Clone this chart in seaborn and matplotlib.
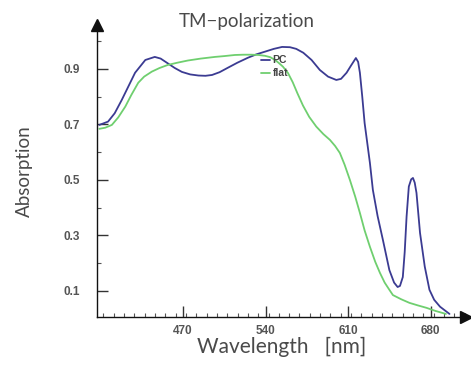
import numpy as np
import pandas as pd
import matplotlib
matplotlib.use("Agg")
import matplotlib.pyplot as plt
from matplotlib.ticker import MultipleLocator
import seaborn as sns

# ---- data ----
pc_wl = [399, 406.4, 412, 418, 424, 429.3, 438, 446, 451, 457, 463, 469, 476, 483, 489,
         494.6, 501, 508, 516, 525, 532, 539.5, 547, 554, 560.7, 566, 572, 579, 586, 593,
         600, 604, 608.7, 612.5, 616.6, 618.5, 620, 622, 624, 628.5, 631, 635, 639.5, 645,
         649, 652, 654, 656.4, 658, 659.6, 661.5, 663.5, 665, 666.5, 668, 671, 675, 679,
         683, 688, 696]
pc_abs = [0.698, 0.71, 0.74, 0.788, 0.84, 0.886, 0.932, 0.943, 0.937, 0.92, 0.903, 0.889,
          0.88, 0.876, 0.875, 0.878, 0.888, 0.904, 0.922, 0.94, 0.952, 0.962, 0.972, 0.979,
          0.978, 0.972, 0.958, 0.932, 0.896, 0.872, 0.86, 0.864, 0.886, 0.912, 0.939, 0.925,
          0.886, 0.8, 0.705, 0.561, 0.464, 0.37, 0.284, 0.175, 0.13, 0.114, 0.118, 0.15,
          0.24, 0.368, 0.476, 0.502, 0.507, 0.49, 0.453, 0.309, 0.188, 0.104, 0.068, 0.043,
          0.017]
flat_wl = [399, 404, 409.6, 415, 421, 426, 432, 437, 443.5, 450, 457, 465, 474, 485, 497,
           505, 514, 521, 528, 534, 539.5, 544, 548, 551, 554.7, 559, 563, 567, 571.7, 577,
           583, 589, 594.6, 599, 603, 607, 611.5, 616, 620, 624, 628.5, 633, 637, 641, 645,
           648, 655, 662, 669, 676.5, 684, 693]
flat_abs = [0.684, 0.688, 0.698, 0.725, 0.764, 0.805, 0.85, 0.872, 0.89, 0.903, 0.914,
            0.922, 0.93, 0.937, 0.943, 0.946, 0.95, 0.951, 0.951, 0.95, 0.947, 0.942, 0.932,
            0.922, 0.908, 0.885, 0.852, 0.812, 0.768, 0.727, 0.692, 0.665,
            0.644, 0.622, 0.597, 0.555, 0.5, 0.44, 0.381, 0.318, 0.259, 0.205, 0.165, 0.13,
            0.104, 0.085, 0.07, 0.057, 0.048, 0.039, 0.028, 0.017]
series_names = ["PC", "flat"]
x_ticks = [470, 540, 610, 680]
y_ticks = [0.1, 0.3, 0.5, 0.7, 0.9]

df = pd.concat([
    pd.DataFrame({"wl": pc_wl, "abs": pc_abs, "series": "PC"}),
    pd.DataFrame({"wl": flat_wl, "abs": flat_abs, "series": "flat"}),
])

sns.set_style("white")
plt.rcParams["font.family"] = ["Lato", "DejaVu Sans"]

fig = plt.figure(figsize=(4.71, 3.67), dpi=100)
ax = fig.add_axes([97 / 471, (367 - 317) / 367, (466 - 97) / 471, (317 - 25) / 367])

sns.lineplot(data=df, x="wl", y="abs", hue="series", hue_order=series_names,
             palette={"PC": "#3b3b92", "flat": "#6fcf6f"}, sort=False, estimator=None,
             linewidth=1.3, ax=ax)

ax.set_xlim(397, 710)
ax.set_ylim(0.006, 1.058)
for s in ["top", "right"]:
    ax.spines[s].set_visible(False)
for s in ["left", "bottom"]:
    ax.spines[s].set_color("#111111")
    ax.spines[s].set_linewidth(1.0)

ax.set_xticks(x_ticks)
ax.set_yticks(y_ticks)
ax.xaxis.set_minor_locator(MultipleLocator(8.75))
ax.yaxis.set_minor_locator(MultipleLocator(0.1))
ax.tick_params(axis="both", which="major", direction="in", length=8, width=1,
               color="#333333", labelsize=8.5, labelcolor="#555555", pad=6)
ax.tick_params(axis="both", which="minor", direction="in", length=3, width=0.8, color="#555555")
ax.tick_params(axis="y", which="major", pad=12)
ax.tick_params(bottom=True, left=True, which="both")
for lab in ax.get_xticklabels() + ax.get_yticklabels():
    lab.set_fontweight("bold")
    lab.set_family(["Liberation Sans", "DejaVu Sans"])

# arrow heads
ax.plot(1, 0, marker=">", color="#111111", markersize=8, transform=ax.transAxes, clip_on=False)
ax.plot(0, 1, marker="^", color="#111111", markersize=8, transform=ax.transAxes, clip_on=False)

ax.set_xlabel("Wavelength   [nm]", fontsize=15, color="#4a4a4a", labelpad=0)
ax.set_ylabel("Absorption", fontsize=13.5, color="#4a4a4a", labelpad=22)
fig.text(247 / 471, 1 - 21 / 367, "TM\u2212polarization", fontsize=13.5, color="#4a4a4a",
         ha="center", va="center")

leg = ax.legend(loc="upper left", bbox_to_anchor=(256 / 471, 1 - 50 / 367),
                bbox_transform=fig.transFigure, frameon=False, fontsize=7.5,
                handlelength=0.8, handletextpad=0.3, labelspacing=0.3, borderpad=0)
for t in leg.get_texts():
    t.set_color("#444444")
    t.set_fontweight("bold")
    t.set_family(["Liberation Sans", "DejaVu Sans"])

fig.savefig("out.png", dpi=100)
